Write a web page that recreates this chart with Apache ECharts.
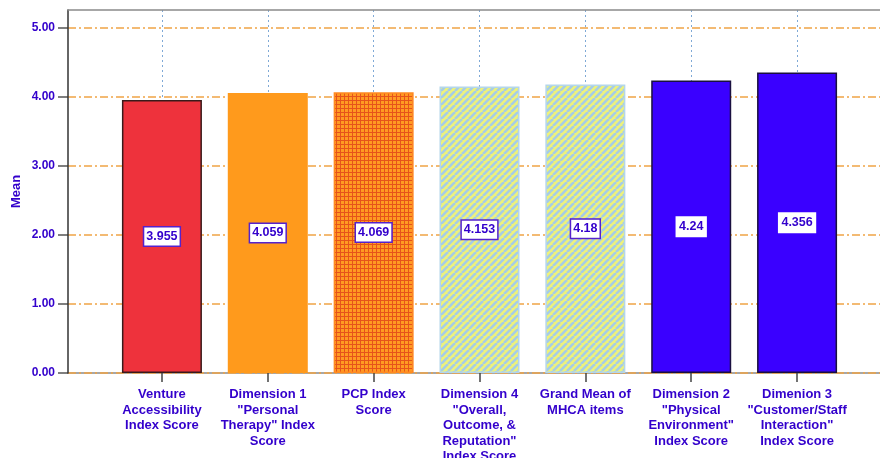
<!DOCTYPE html>
<html>
<head>
<meta charset="utf-8">
<script src="https://cdn.jsdelivr.net/npm/echarts@6/dist/echarts.min.js"></script>
<style>
  html, body { margin: 0; padding: 0; background: #ffffff; }
  #chart { width: 880px; height: 458px; }
</style>
</head>
<body>
<div id="chart"></div>
<script>
// Mean index scores by dimension
const categories = [
  'Venture\nAccessibility\nIndex Score',
  'Dimension 1\n"Personal\nTherapy" Index\nScore',
  'PCP Index\nScore',
  'Dimension 4\n"Overall,\nOutcome, &\nReputation"\nIndex Score',
  'Grand Mean of\nMHCA items',
  'Dimension 2\n"Physical\nEnvironment"\nIndex Score',
  'Dimenion 3\n"Customer/Staff\nInteraction"\nIndex Score'
];
const meanValues = [3.955, 4.059, 4.069, 4.153, 4.18, 4.24, 4.356];
const yTickValues = [0, 1, 2, 3, 4, 5];

const BLUE_TEXT = '#3300cc';
const FONT = '"Liberation Sans", Arial, sans-serif';

// Small repeating fills for the patterned bars
function gridPattern() {
  const c = document.createElement('canvas');
  c.width = 4; c.height = 4;
  const g = c.getContext('2d');
  g.fillStyle = '#ff9a22';
  g.fillRect(0, 0, 4, 4);
  g.fillStyle = '#e6531a';
  g.fillRect(0, 0, 4, 1);
  g.fillRect(0, 0, 1, 4);
  return c;
}
function stripePattern() {
  const s = 7;
  const c = document.createElement('canvas');
  c.width = s; c.height = s;
  const g = c.getContext('2d');
  g.fillStyle = '#eef27a';
  g.fillRect(0, 0, s, s);
  g.strokeStyle = '#a6cde6';
  g.lineWidth = 2.6;
  for (let k = -1; k <= 1; k++) {
    g.beginPath();
    g.moveTo(k * s, s);
    g.lineTo(k * s + s, 0);
    g.stroke();
  }
  return c;
}

const gridImg = gridPattern();
const stripeImg = stripePattern();

const barStyles = [
  { color: '#ee323c', borderColor: '#3a1a1a', borderWidth: 1.5 },
  { color: '#ff9a1c', borderColor: '#ff9a1c', borderWidth: 0 },
  { color: { image: gridImg, repeat: 'repeat' }, borderColor: '#ff8a22', borderWidth: 1.5 },
  { color: { image: stripeImg, repeat: 'repeat' }, borderColor: '#b4d6ea', borderWidth: 1.5 },
  { color: { image: stripeImg, repeat: 'repeat' }, borderColor: '#b4d6ea', borderWidth: 1.5 },
  { color: '#3a00ff', borderColor: '#1a1040', borderWidth: 1.5 },
  { color: '#3a00ff', borderColor: '#1a1040', borderWidth: 1.5 }
];
const labelBorders = ['#5522cc', '#5522cc', '#5522cc', '#5522cc', '#5522cc', '#ffffff', '#ffffff'];

const chart = echarts.init(document.getElementById('chart'), null, { renderer: 'canvas' });

const option = {
  backgroundColor: '#ffffff',
  animation: false,
  grid: [
    // frame: y axis line, top and bottom lines
    { left: 68, right: -20, top: 10, bottom: 85, outerBoundsMode: 'none', containLabel: false },
    // value ticks, labels and horizontal gridlines
    { left: 68, right: -20, top: 28, bottom: 85, outerBoundsMode: 'none', containLabel: false },
    // bars
    { left: 109, right: 30, top: 10, bottom: 85, outerBoundsMode: 'none', containLabel: false }
  ],
  xAxis: [
    { gridIndex: 0, type: 'value', min: 0, max: 1, position: 'bottom', z: 0,
      axisLine: { show: true, lineStyle: { color: '#8a8a8a', width: 1.5 } },
      axisTick: { show: false }, axisLabel: { show: false }, splitLine: { show: false } },
    { gridIndex: 0, type: 'value', min: 0, max: 1, position: 'top', z: 3,
      axisLine: { show: true, lineStyle: { color: '#8a8a8a', width: 1.5 } },
      axisTick: { show: false }, axisLabel: { show: false }, splitLine: { show: false } },
    { gridIndex: 1, type: 'value', min: 0, max: 1, show: false },
    { gridIndex: 2, type: 'category', data: categories, z: 1,
      axisLine: { show: false },
      axisTick: { show: true, alignWithLabel: true, length: 9, lineStyle: { color: '#444444', width: 1.5 } },
      axisLabel: { color: BLUE_TEXT, fontFamily: FONT, fontWeight: 'bold', fontSize: 13,
        lineHeight: 15.5, margin: 14, interval: 0, align: 'center' },
      splitLine: { show: true, alignWithLabel: true, interval: 0,
        lineStyle: { color: '#7fa9d6', type: [2, 3], width: 1 } } }
  ],
  yAxis: [
    { gridIndex: 0, type: 'value', min: 0, max: 1, z: 3,
      name: 'Mean', nameLocation: 'middle', nameGap: 45, nameRotate: 90,
      nameTextStyle: { color: BLUE_TEXT, fontFamily: FONT, fontWeight: 'bold', fontSize: 13 },
      axisLine: { show: true, lineStyle: { color: '#333333', width: 1.5 } },
      axisTick: { show: false }, axisLabel: { show: false }, splitLine: { show: false } },
    { gridIndex: 1, type: 'value', min: yTickValues[0], max: yTickValues[yTickValues.length - 1],
      interval: 1, z: 1,
      axisLine: { show: false },
      axisTick: { show: true, length: 10, lineStyle: { color: '#555555', width: 1.5 } },
      axisLabel: { color: BLUE_TEXT, fontFamily: FONT, fontWeight: 'bold', fontSize: 12, margin: 13,
        formatter: v => v.toFixed(2) },
      splitLine: { show: true, lineStyle: { color: '#f0a445', type: [8, 3, 2, 3], width: 1.5 } } },
    { gridIndex: 2, type: 'value', min: 0, max: 5.26, show: false, splitLine: { show: false } }
  ],
  series: [
    {
      type: 'bar',
      xAxisIndex: 3,
      yAxisIndex: 2,
      barWidth: 80,
      z: 2,
      data: meanValues.map((v, i) => ({
        value: v,
        itemStyle: barStyles[i],
        label: { borderColor: labelBorders[i] }
      })),
      label: {
        show: true,
        position: 'inside',
        formatter: '{c}',
        color: BLUE_TEXT,
        fontFamily: FONT,
        fontWeight: 'bold',
        fontSize: 12.5,
        backgroundColor: '#ffffff',
        borderWidth: 1.5,
        padding: [3, 2, 2, 2]
      }
    }
  ]
};

chart.setOption(option);
</script>
</body>
</html>
